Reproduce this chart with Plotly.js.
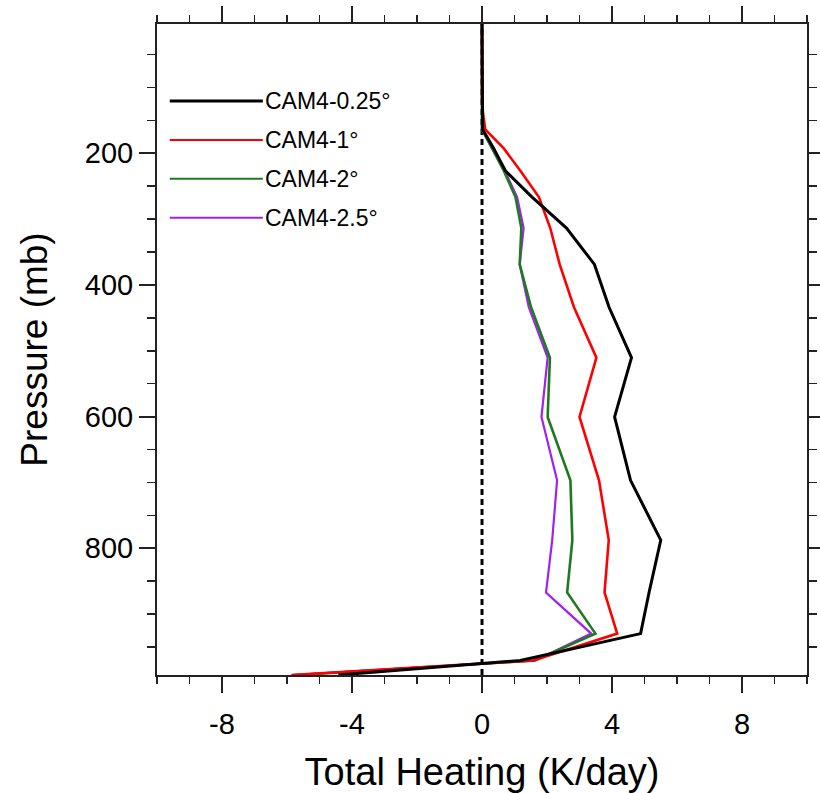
<!DOCTYPE html>
<html>
<head>
<meta charset="utf-8">
<script src="https://cdn.plot.ly/plotly-3.0.1.min.js"></script>
<style>
html,body{margin:0;padding:0;background:#fff;}
#chart{width:820px;height:793px;}
</style>
</head>
<body>
<div id="chart"></div>
<script>
// Pressure levels (mb), CAM 26-level midpoints
const pressure = [3.54, 7.39, 13.97, 23.94, 37.23, 53.11, 70.06, 85.44, 100.51, 118.25, 139.12,
  163.67, 192.54, 226.51, 266.48, 313.50, 368.82, 433.90, 510.46, 600.52, 696.80, 787.70,
  867.16, 929.65, 970.55, 992.56];

// Total heating (K/day)
const cam025 = [0,0,0,0,0,0,0,0,0,0,0,
  0.02, 0.36, 0.72, 1.54, 2.60, 3.46, 3.91, 4.60, 4.08, 4.57, 5.50, 5.14, 4.88, 1.18, -4.42];
const cam1 = [0,0,0,0,0,0,0,0,0,0,0.03,
  0.10, 0.67, 1.18, 1.75, 2.10, 2.39, 2.83, 3.52, 3.00, 3.60, 3.90, 3.77, 4.16, 1.58, -5.86];
const cam2 = [0,0,0,0,0,0,0,0,0,0,0,
  0.00, 0.31, 0.67, 1.03, 1.21, 1.16, 1.51, 2.09, 2.02, 2.72, 2.78, 2.62, 3.49, 1.62, -5.70];
const cam25 = [0,0,0,0,0,0,0,0,0,0,0,
  0.00, 0.31, 0.70, 1.08, 1.28, 1.16, 1.44, 2.02, 1.83, 2.31, 2.16, 1.97, 3.36, 1.64, -5.86];

const seriesNames = ["CAM4-0.25°", "CAM4-1°", "CAM4-2°", "CAM4-2.5°"];
const seriesData = [cam025, cam1, cam2, cam25];
const seriesColors = ["#000000", "#ff0000", "#1f7a1f", "#a020f0"];
const seriesWidths = [3.0, 2.6, 2.6, 2.2];

const xTicks = [-8, -4, 0, 4, 8];
const yTicks = [200, 400, 600, 800];
const xRange = [-10, 10];
const yRange = [992.56, 3.54];

const FONT = "Liberation Sans, Arial, Helvetica, sans-serif";

const traces = [];
// zero reference line (dashed)
traces.push({
  x: [0, 0], y: [yRange[0], yRange[1]], mode: "lines", type: "scatter",
  line: {color: "#000", width: 3, dash: "6px,4px"}, showlegend: false, hoverinfo: "skip"
});
// draw in reverse so black is on top
for (let i = seriesData.length - 1; i >= 0; i--) {
  traces.push({
    x: seriesData[i], y: pressure, mode: "lines", type: "scatter", name: seriesNames[i],
    line: {color: seriesColors[i], width: seriesWidths[i]}, showlegend: false
  });
}

// manual legend (lines + labels)
const shapes = [];
const annotations = [];
const legX0 = 0.0196, legX1 = 0.1628, legY0 = 0.8816, legDy = 0.0597;
seriesNames.forEach((nm, i) => {
  const yy = legY0 - i * legDy;
  shapes.push({type: "line", xref: "paper", yref: "paper", x0: legX0, x1: legX1, y0: yy, y1: yy,
    line: {color: seriesColors[i], width: i === 0 ? 3 : 2}});
  annotations.push({xref: "paper", yref: "paper", x: legX1 + 0.001, y: yy, text: nm, showarrow: false,
    xanchor: "left", yanchor: "middle", font: {family: FONT, size: 23, color: "#000"}});
});

const axisCommon = {
  showline: true, linecolor: "#222", linewidth: 2, mirror: "ticks",
  ticks: "outside", tickcolor: "#222", tickwidth: 2, ticklen: 16,
  showgrid: false, zeroline: false,
  tickfont: {family: FONT, size: 29, color: "#000"}
};

const layout = {
  width: 820, height: 793,
  margin: {l: 157, r: 13, t: 24, b: 118},
  paper_bgcolor: "#fff", plot_bgcolor: "#fff",
  showlegend: false,
  xaxis: Object.assign({}, axisCommon, {
    range: xRange, tickmode: "array", tickvals: xTicks, ticktext: xTicks.map(String),
    ticklabelstandoff: 6,
    minor: {dtick: 1, tick0: 0, ticks: "outside", ticklen: 7, tickwidth: 1.5, tickcolor: "#222"},
    title: {text: "Total Heating (K/day)", font: {family: FONT, size: 38, color: "#000"}, standoff: 20}
  }),
  yaxis: Object.assign({}, axisCommon, {
    range: yRange, tickmode: "array", tickvals: yTicks, ticktext: yTicks.map(String),
    minor: {dtick: 50, tick0: 0, ticks: "outside", ticklen: 8, tickwidth: 1.5, tickcolor: "#222"},
    title: {text: "Pressure (mb)", font: {family: FONT, size: 37, color: "#000"}, standoff: 26}
  }),
  shapes: shapes,
  annotations: annotations
};

Plotly.newPlot("chart", traces, layout, {staticPlot: true, displayModeBar: false});
</script>
</body>
</html>
